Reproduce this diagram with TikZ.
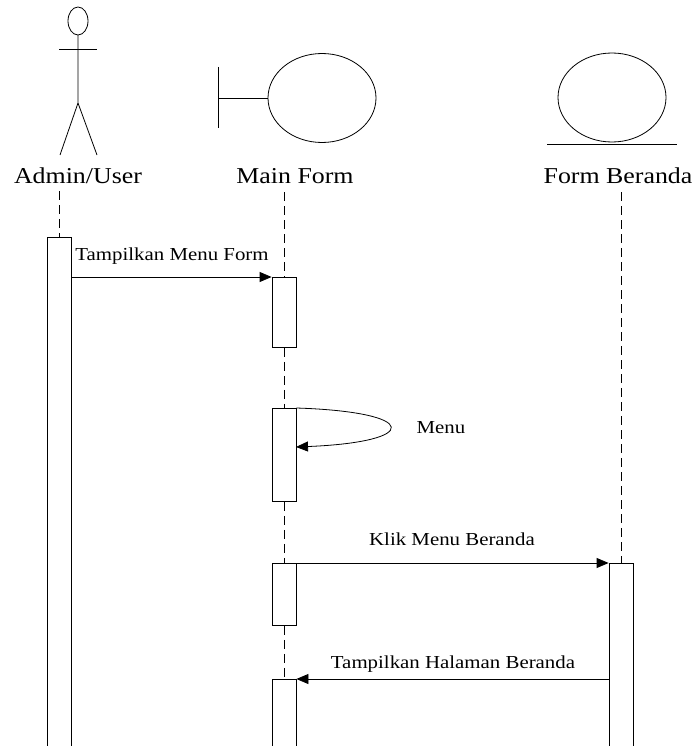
\documentclass[tikz,border=0pt]{standalone}
\usepackage{fontspec}
\setmainfont{Liberation Serif}[FakeStretch=1.14]
\usepackage{tikz}
\usetikzlibrary{positioning,arrows.meta}

\begin{document}
\begin{tikzpicture}[x=1pt, y=-1pt,
      hd/.style={font=\fontsize{22.7}{26}\selectfont, anchor=base, inner sep=0pt},
      lb/.style={font=\fontsize{18.3}{22}\selectfont, anchor=base, inner sep=0pt},
      act/.style={draw, fill=white, line width=0.8pt, minimum width=24pt,
                  inner sep=0pt, anchor=north},
      life/.style={line width=0.8pt, dash pattern=on 9pt off 5pt},
      msg/.style={-{Triangle[length=12pt,width=10pt]}, line width=0.8pt},
      shp/.style={line width=0.8pt},
    ]
      \useasboundingbox (0,0) rectangle (695,746);
      \draw[shp] (78,21) ellipse [x radius=10pt, y radius=14pt];
      \draw[shp] (78,35) -- (78,103) -- (60,155) (78,103) -- (97,155);
      \draw[shp] (59,49) -- (97,49);
      \draw[shp] (218,67) -- (218,128) (218,98) -- (268,98);
      \draw[shp] (322,98) ellipse [x radius=54pt, y radius=44.5pt];
      \draw[shp] (612,97.5) ellipse [x radius=54pt, y radius=44.5pt];
      \draw[shp] (547,144) -- (677,144);
      \node[hd] (user)  at (78,183)  {Admin/User};
      \node[hd] (mform) at (295,183) {Main Form};
      \node[hd] (fber)  at (618,183) {Form Beranda};
      \coordinate (uTop)  at (59,191);
      \coordinate (mfTop) at (284,192);
      \coordinate (fbTop) at (621,192);
      \node[act, minimum height=512pt] (ua)  at (59,237)  {};
      \node[act, minimum height=70pt]  (mf1) at (284,277) {};
      \node[act, minimum height=93pt]  (mf2) at (284,408) {};
      \node[act, minimum height=62pt]  (mf3) at (284,563) {};
      \node[act, minimum height=70pt]  (mf4) at (284,679) {};
      \node[act, minimum height=186pt] (fb1) at (621,563) {};
      \draw[life] (uTop) -- (ua.north);
      \draw[life] (mfTop) -- (mf1.north);
      \draw[life] (mf1.south) -- (mf2.north);
      \draw[life] (mf2.south) -- (mf3.north);
      \draw[life] (mf3.south) -- (mf4.north);
      \draw[life] (fbTop) -- (fb1.north);
      \coordinate (selfEnd) at (296,447);
      \draw[msg] (ua.north east |- mf1.north west) -- (mf1.north west);
      \node[lb] (m1) at (172,260) {Tampilkan Menu Form};
      \draw[msg] (mf2.north east) .. controls (421,412) and (421,442) .. (selfEnd);
      \node[lb] (m2) at (441,433) {Menu};
      \draw[msg] (mf3.north east) -- (fb1.north west);
      \node[lb] (m3) at (452,545) {Klik Menu Beranda};
      \draw[msg] (fb1.north west |- mf4.north east) -- (mf4.north east);
      \node[lb] (m4) at (453,668) {Tampilkan Halaman Beranda};
    \end{tikzpicture}
\end{document}
